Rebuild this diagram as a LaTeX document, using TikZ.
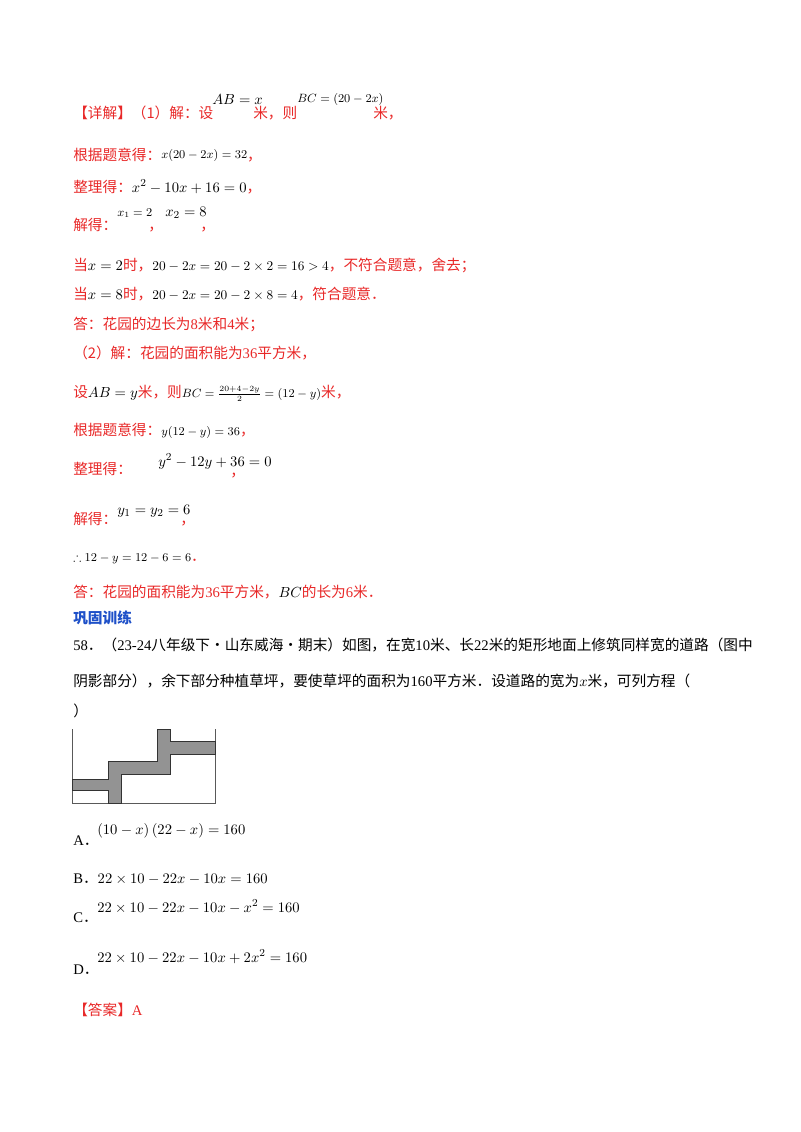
\documentclass[tikz,border=0pt]{standalone}
\usepackage{amssymb}
\usepackage{fontspec}
\setmainfont{Liberation Serif}
\newfontfamily\cjk{Noto Sans CJK SC}
\definecolor{rd}{RGB}{232,40,40}
\definecolor{bl}{RGB}{30,80,200}
\newcommand{\zh}[1]{{\cjk #1}}
\newcommand{\mm}[1]{{\color{black}$#1$}}
\begin{document}
\begin{tikzpicture}[x=0.75pt,y=-0.75pt,
  t/.style={anchor=base west,inner sep=0,font=\fontsize{11}{13}\selectfont},
  r/.style={t,text=rd},
  s/.style={anchor=base west,inner sep=0,font=\fontsize{9}{10}\selectfont}]
\useasboundingbox (0,0) rectangle (800,1132);
\node[r] (l1) at (73,118) {\zh{【详解】（1）解：设}};
\node[s] (l1a) at (212,104) {\fontsize{11}{12}\selectfont$AB=x$};
\node[r] (l1b) at (253,118) {\zh{米，则}};
\node[s] (l1c) at (297,102) {$BC=(20-2x)$};
\node[r] (l1d) at (373,118) {\zh{米，}};
\node[r] (l2) at (73,160) {\zh{根据题意得：}\raisebox{1pt}{\fontsize{9}{10}\selectfont\mm{x(20-2x)=32}}\zh{，}};
\node[r] (l3) at (73,192) {\zh{整理得：}\mm{x^2-10x+16=0}\zh{，}};
\node[r] (l4) at (73,230) {\zh{解得：}};
\node[s] (l4a) at (117,216) {$x_1=2$};
\node[r] (l4c) at (148,230) {\zh{，}};
\node[s] (l4b) at (165,216) {\fontsize{11}{12}\selectfont$x_2=8$};
\node[r] (l4d) at (200,230) {\zh{，}};
\node[r] (l5) at (73,270) {\zh{当}\mm{x=2}\zh{时，}{\fontsize{10}{10}\selectfont\mm{20-2x=20-2\times2=16>4}}\zh{，不符合题意，舍去；}};
\node[r] (l6) at (73,299) {\zh{当}\mm{x=8}\zh{时，}{\fontsize{10}{10}\selectfont\mm{20-2x=20-2\times8=4}}\zh{，符合题意．}};
\node[r] (l7) at (73,329) {\zh{答：花园的边长为}8\zh{米和}4\zh{米；}};
\node[r] (l8) at (73,358) {\zh{（2）解：花园的面积能为}36\zh{平方米，}};
\node[r] (l9) at (73,397) {\zh{设}\mm{AB=y}\zh{米，则}{\fontsize{9}{10}\selectfont\mm{BC=\frac{20+4-2y}{2}=(12-y)}}\zh{米，}};
\node[r] (l10) at (73,435) {\zh{根据题意得：}{\fontsize{9}{10}\selectfont\mm{y(12-y)=36}}\zh{，}};
\node[r] (l11) at (73,474) {\zh{整理得：}};
\node[s] (l11a) at (158,466) {\fontsize{11}{12}\selectfont$y^2-12y+36=0$};
\node[r] (l11c) at (230,476) {\zh{，}};
\node[r] (l12) at (73,524) {\zh{解得：}};
\node[s] (l12a) at (117,514) {\fontsize{11}{12}\selectfont$y_1=y_2=6$};
\node[r] (l12c) at (180,524) {\zh{，}};
\node[r] (l13) at (73,561) {{\fontsize{9}{10}\selectfont\mm{\therefore 12-y=12-6=6}}\zh{．}};
\node[r] (l14) at (73,597) {\zh{答：花园的面积能为}36\zh{平方米，}\mm{BC}\zh{的长为}6\zh{米．}};
\node[t,text=bl,font=\fontsize{11}{13}\selectfont\bfseries] (h) at (73,623) {\zh{\bfseries 巩固训练}};
\node[t] (q1) at (73,650) {58\zh{．（}23-24\zh{八年级下·山东威海·期末）如图，在宽}10\zh{米、长}22\zh{米的矩形地面上修筑同样宽的道路（图中}};
\node[t] (q2) at (73,686) {\zh{阴影部分），余下部分种植草坪，要使草坪的面积为}160\zh{平方米．设道路的宽为}$x$\zh{米，可列方程（}};
\node[t] (q3) at (73,716) {\zh{）}};
% figure
\draw[gray!70!black,line width=0.6pt] (72.3,729) -- (72.3,803.3) -- (215.7,803.3) -- (215.7,729);
\draw[fill=gray!85!white,draw=black!80,line width=0.6pt]
 (72.3,779.3) -- (108.3,779.3) -- (108.3,761.7) -- (157.7,761.7) -- (157.7,729.3) -- (170.7,729.3) -- (170.7,741.7) -- (215.7,741.7) -- (215.7,754) -- (170.7,754) -- (170.7,774) -- (121,774) -- (121,803.3) -- (108.3,803.3) -- (108.3,790.7) -- (72.3,790.7) -- cycle;
\node[t] (a) at (73,845) {A\zh{．}};
\node[t] (am) at (97,834) {$\left(10-x\right)\left(22-x\right)=160$};
\node[t] (b) at (73,883) {B\zh{．}$22\times10-22x-10x=160$};
\node[t] (c) at (73,922) {C\zh{．}};
\node[t] (cm) at (97,912) {$22\times10-22x-10x-x^2=160$};
\node[t] (d) at (73,974) {D\zh{．}};
\node[t] (dm) at (97,962) {$22\times10-22x-10x+2x^2=160$};
\node[r] (ans) at (73,1015) {\zh{【答案】}A};
\end{tikzpicture}
\end{document}
